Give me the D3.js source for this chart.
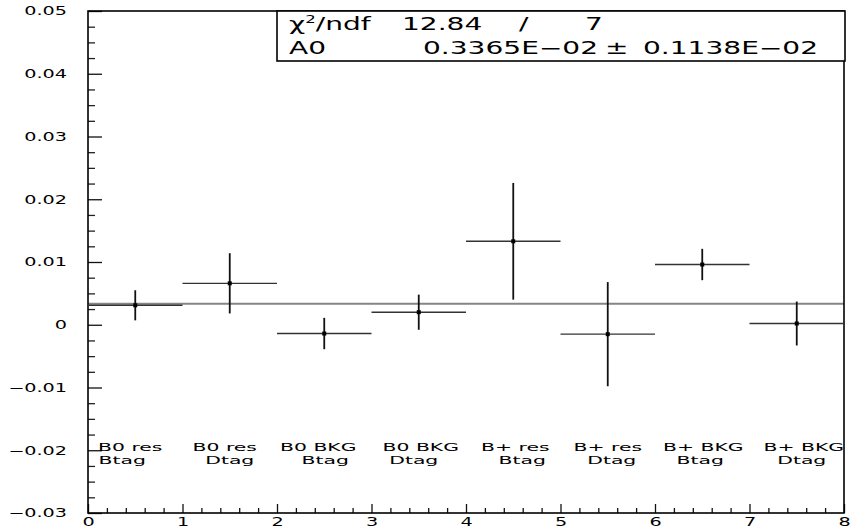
<!DOCTYPE html>
<html>
<head>
<meta charset="utf-8">
<script src="https://cdn.jsdelivr.net/npm/d3@7"></script>
<style>
  html, body { margin: 0; padding: 0; background: #fff; }
  svg { display: block; }
  text { font-family: "DejaVu Sans", sans-serif; fill: #000; }
</style>
</head>
<body>
<svg id="chart" width="850" height="532"></svg>
<script>
// Asymmetry per sample, one bin each
const categories = [
  ["B0 res", "Btag"], ["B0 res", "Dtag"], ["B0 BKG", "Btag"], ["B0 BKG", "Dtag"],
  ["B+ res", "Btag"], ["B+ res", "Dtag"], ["B+ BKG", "Btag"], ["B+ BKG", "Dtag"]
];
const values = [0.0031, 0.0066, -0.0014, 0.0020, 0.0133, -0.0015, 0.0096, 0.0002];
const errors = [0.0024, 0.0048, 0.0025, 0.0028, 0.0093, 0.0083, 0.0025, 0.0035];

// Constant fit (pol0) result
const fitA0 = 0.003365;
const fitA0Err = 0.001138;
const chi2 = "12.84";
const ndf = "7";

// Axis ticks
const yMajorTicks = [-0.03, -0.02, -0.01, 0, 0.01, 0.02, 0.03, 0.04, 0.05];
const xMajorTicks = [0, 1, 2, 3, 4, 5, 6, 7, 8];

const svg = d3.select("#chart");
const pLeft = 88, pRight = 844, pTop = 11, pBottom = 513;

const x = d3.scaleLinear().domain([0, 8]).range([pLeft, pRight]);
const y = d3.scaleLinear().domain([-0.03, 0.05]).range([pBottom, pTop]);

const minus = s => s.replace("-", "\u2212");
const fmtY = v => Math.abs(v) < 1e-12 ? "0" : minus(d3.format(".2f")(v));

// wide, stretched lettering
function stretch(sel, sx) {
  sel.each(function () {
    const t = d3.select(this);
    const tx = +t.attr("x") || 0;
    const ty = +t.attr("y") || 0;
    t.attr("x", null).attr("y", null)
     .attr("transform", `translate(${tx},${ty}) scale(${sx},1)`);
  });
}

// fit line
svg.append("line")
  .attr("x1", x(0)).attr("x2", x(8))
  .attr("y1", y(fitA0)).attr("y2", y(fitA0))
  .attr("stroke", "#858585").attr("stroke-width", 2);

// y axis: major and minor ticks point into the frame
const yMinor = d3.range(-0.03, 0.05 + 1e-9, 0.0025).filter(v => Math.abs(Math.round(v / 0.01) * 0.01 - v) > 1e-9);
svg.append("g").attr("transform", `translate(${pLeft},0)`)
  .call(d3.axisLeft(y).tickValues(yMinor).tickSize(-7).tickFormat(""))
  .call(g => g.select(".domain").remove())
  .call(g => g.selectAll("line").attr("stroke", "#222").attr("stroke-width", 1.3));

const yAx = svg.append("g").attr("transform", `translate(${pLeft},0)`)
  .call(d3.axisLeft(y).tickValues(yMajorTicks).tickSize(-14).tickPadding(21).tickFormat(fmtY))
  .call(g => g.select(".domain").remove())
  .call(g => g.selectAll("line").attr("stroke", "#111").attr("stroke-width", 1.3));
yAx.selectAll("text")
  .attr("font-size", 12).attr("font-family", "DejaVu Sans, sans-serif")
  .attr("fill", "#000")
  .call(stretch, 1.6);

// x axis: ticks point up into the frame
const xMinor = d3.range(0, 8.0001, 0.2).filter(v => Math.abs(v - Math.round(v)) > 1e-6);
svg.append("g").attr("transform", `translate(0,${pBottom})`)
  .call(d3.axisBottom(x).tickValues(xMinor).tickSize(-5).tickFormat(""))
  .call(g => g.select(".domain").remove())
  .call(g => g.selectAll("line").attr("stroke", "#111").attr("stroke-width", 1.3));

const xAx = svg.append("g").attr("transform", `translate(0,${pBottom})`)
  .call(d3.axisBottom(x).tickValues(xMajorTicks).tickSize(-9).tickPadding(4).tickFormat(d3.format("d")))
  .call(g => g.select(".domain").remove())
  .call(g => g.selectAll("line").attr("stroke", "#111").attr("stroke-width", 1.3));
xAx.selectAll("text")
  .attr("font-size", 12).attr("font-family", "DejaVu Sans, sans-serif")
  .attr("fill", "#000")
  .each(function () { d3.select(this).attr("y", 4 + 8.5).attr("dy", null); })
  .call(stretch, 1.6);

// frame
svg.append("rect")
  .attr("x", pLeft).attr("y", pTop)
  .attr("width", pRight - pLeft).attr("height", pBottom - pTop)
  .attr("fill", "none").attr("stroke", "#000").attr("stroke-width", 1.6);

// points with error bars
const pts = svg.append("g");
values.forEach((v, i) => {
  const g = pts.append("g");
  g.append("line")
    .attr("x1", x(i)).attr("x2", x(i + 1))
    .attr("y1", y(v)).attr("y2", y(v))
    .attr("stroke", "#333").attr("stroke-width", 1.4);
  g.append("line")
    .attr("x1", x(i + 0.5)).attr("x2", x(i + 0.5))
    .attr("y1", y(v - errors[i])).attr("y2", y(v + errors[i]))
    .attr("stroke", "#111").attr("stroke-width", 1.8);
  g.append("rect")
    .attr("x", x(i + 0.5) - 2).attr("y", y(v) - 2)
    .attr("width", 4).attr("height", 4)
    .attr("fill", "#000");
});

// bin labels, two lines each
const labelNudge = [[-5, -13], [-5, 0], [-6, 1], [2, -5], [2, 9], [0, 4], [1, -2], [7, 5]];
const lab = svg.append("g");
categories.forEach((c, i) => {
  const cx = x(i + 0.5);
  lab.append("text").attr("x", cx + labelNudge[i][0]).attr("y", 451)
    .attr("text-anchor", "middle").attr("font-size", 11).text(c[0]);
  lab.append("text").attr("x", cx + labelNudge[i][1]).attr("y", 464)
    .attr("text-anchor", "middle").attr("font-size", 11).text(c[1]);
});
lab.selectAll("text").call(stretch, 1.85);

// fit statistics box
const box = svg.append("g");
box.append("rect")
  .attr("x", 277).attr("y", pTop).attr("width", pRight - 277 + 1).attr("height", 50)
  .attr("fill", "#fff").attr("stroke", "#000").attr("stroke-width", 1.6);

const fmtE = v => {
  const e = Math.floor(Math.log10(Math.abs(v))) + 1;
  const m = v / Math.pow(10, e);
  const es = (e < 0 ? "\u2212" : "+") + String(Math.abs(e)).padStart(2, "0");
  return m.toFixed(4) + "E" + es;
};

const row1 = box.append("g");
const t1 = row1.append("text").attr("x", 289).attr("y", 30).attr("font-size", 17);
t1.append("tspan").text("\u03C7");
t1.append("tspan").attr("font-size", 10).attr("dy", -7).text("2");
t1.append("tspan").attr("dy", 7).text("/ndf");
row1.append("text").attr("x", 402).attr("y", 30).attr("font-size", 17).text(chi2);
row1.append("text").attr("x", 519).attr("y", 30).attr("font-size", 17).text("/");
row1.append("text").attr("x", 585).attr("y", 30).attr("font-size", 17).text(ndf);

const row2 = box.append("g");
row2.append("text").attr("x", 289).attr("y", 54).attr("font-size", 17).text("A0");
row2.append("text").attr("x", 423).attr("y", 54).attr("font-size", 17).text(fmtE(fitA0));
row2.append("text").attr("x", 605).attr("y", 54).attr("font-size", 17).text("\u00B1");
row2.append("text").attr("x", 643).attr("y", 54).attr("font-size", 17).text(fmtE(fitA0Err));
box.selectAll("text").call(stretch, 1.65);
</script>
</body>
</html>
